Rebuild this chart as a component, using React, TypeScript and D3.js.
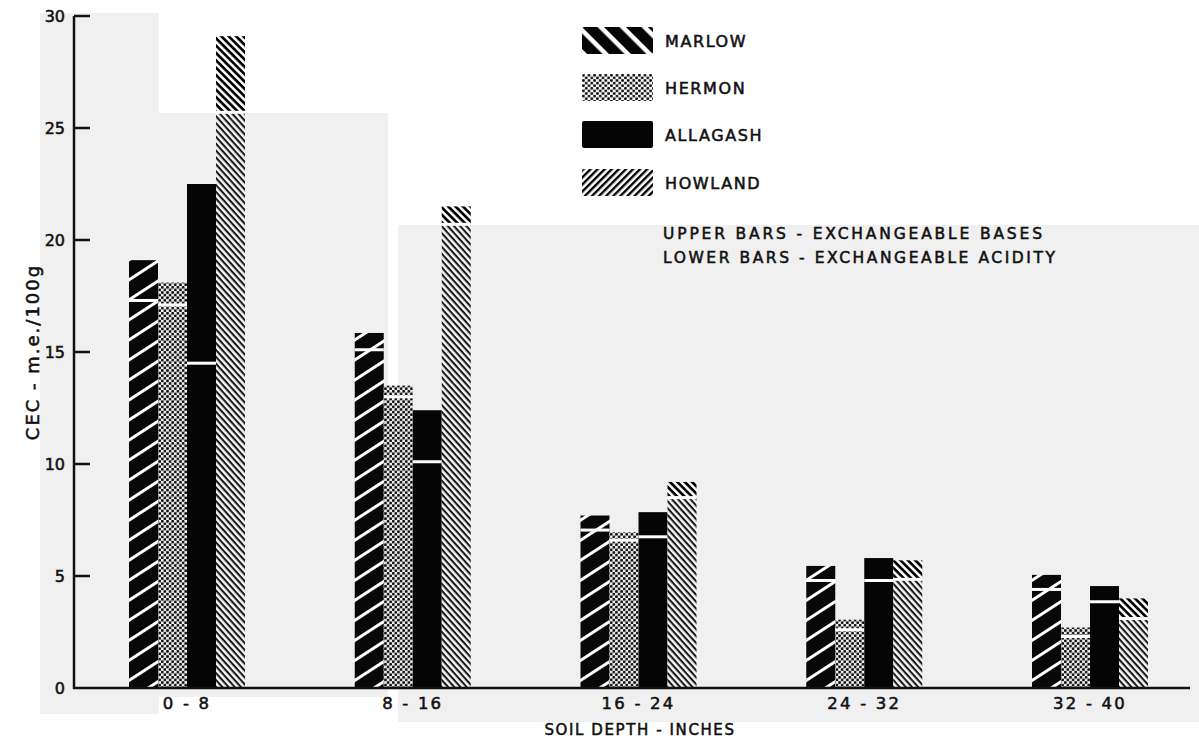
import React from "react";
import * as d3 from "d3";

const depths = ["0 - 8", "8 - 16", "16 - 24", "24 - 32", "32 - 40"];
const soils = ["MARLOW", "HERMON", "ALLAGASH", "HOWLAND"];

// lower bars: exchangeable acidity (m.e./100g)
const marlowAcidity = [17.3, 15.1, 7.05, 4.8, 4.4];
const hermonAcidity = [17.1, 13.0, 6.6, 2.6, 2.3];
const allagashAcidity = [14.5, 10.1, 6.75, 4.8, 3.85];
const howlandAcidity = [25.7, 20.7, 8.5, 4.85, 3.1];

// upper bars: exchangeable bases (m.e./100g)
const marlowBases = [1.8, 0.75, 0.65, 0.65, 0.65];
const hermonBases = [1.0, 0.5, 0.35, 0.45, 0.4];
const allagashBases = [8.0, 2.3, 1.1, 1.0, 0.7];
const howlandBases = [3.4, 0.8, 0.7, 0.85, 0.9];

const yTicks = [0, 5, 10, 15, 20, 25, 30];

const acidity = [marlowAcidity, hermonAcidity, allagashAcidity, howlandAcidity];
const bases = [marlowBases, hermonBases, allagashBases, howlandBases];

const lowerFill = ["url(#pMarlow)", "url(#pHermon)", "#050505", "url(#pHowland)"];
const upperFill = ["url(#pMarlow)", "url(#pHermon)", "#050505", "url(#pHowlandUp)"];
const legendFill = ["url(#lMarlow)", "url(#lHermon)", "#050505", "url(#lHowland)"];

const FONT = "'DejaVu Sans', 'Liberation Sans', sans-serif";
const INK = "#111";

export default function App() {
  const W = 1199;
  const H = 738;
  const axisX = 74;
  const y = d3.scaleLinear().domain([0, 30]).range([688, 16]);
  const x = d3.scalePoint<string>().domain(depths).range([187, 1090]);
  const sub = d3.scaleBand<string>().domain(soils).range([-58, 58]).padding(0);
  const bw = sub.bandwidth();

  const legendY = d3.scalePoint<string>().domain(soils).range([27, 168]);
  const txt = { fontFamily: FONT, fill: INK, stroke: INK, strokeWidth: 0.55 };

  return (
    <svg
      width={W}
      height={H}
      viewBox={`0 0 ${W} ${H}`}
      style={{ position: "absolute", left: 0, top: 0, background: "#fff" }}
    >
      <defs>
        <pattern id="pMarlow" patternUnits="userSpaceOnUse" width={10} height={16.8} patternTransform="rotate(-33)">
          <rect width={10} height={16.8} fill="#080808" />
          <rect y={0} width={10} height={3} fill="#fff" />
        </pattern>
        <pattern id="pHermon" patternUnits="userSpaceOnUse" width={5.2} height={5.2}>
          <rect width={5.2} height={5.2} fill="#f6f6f6" />
          <circle cx={1.3} cy={1.3} r={1.45} fill="#111" />
          <circle cx={3.9} cy={3.9} r={1.45} fill="#111" />
        </pattern>
        <pattern id="pHowland" patternUnits="userSpaceOnUse" width={10} height={4.6} patternTransform="rotate(48)">
          <rect width={10} height={4.6} fill="#f8f8f8" />
          <rect y={0} width={10} height={2.1} fill="#1a1a1a" />
        </pattern>
        <pattern id="pHowlandUp" patternUnits="userSpaceOnUse" width={10} height={5.2} patternTransform="rotate(45)">
          <rect width={10} height={5.2} fill="#fff" />
          <rect y={0} width={10} height={2.7} fill="#000" />
        </pattern>
        <pattern id="lMarlow" patternUnits="userSpaceOnUse" width={20} height={15.5} patternTransform="rotate(45)">
          <rect width={20} height={15.5} fill="#050505" />
          <rect y={0} width={20} height={4.5} fill="#fff" />
        </pattern>
        <pattern id="lHermon" patternUnits="userSpaceOnUse" width={5.6} height={5.2}>
          <rect width={5.6} height={5.2} fill="#fff" />
          <circle cx={1.4} cy={1.3} r={1.45} fill="#111" />
          <circle cx={4.2} cy={3.9} r={1.45} fill="#111" />
        </pattern>
        <pattern id="lHowland" patternUnits="userSpaceOnUse" width={10} height={5} patternTransform="rotate(-45)">
          <rect width={10} height={5} fill="#fff" />
          <rect y={0} width={10} height={2.4} fill="#000" />
        </pattern>
      </defs>

      {/* scanned paper background patches */}
      <rect x={40} y={13} width={119} height={701} fill="#f0f0f0" />
      <rect x={159} y={113} width={229} height={584} fill="#f0f0f0" />
      <rect x={398} y={225} width={801} height={497} fill="#f0f0f0" />

      {/* bars */}
      {depths.map((d, i) => (
        <g key={d} transform={`translate(${x(d)},0)`}>
          {soils.map((s, j) => {
            const lo = acidity[j][i];
            const hi = lo + bases[j][i];
            const bx = sub(s) as number;
            return (
              <g key={s}>
                <rect x={bx} y={y(lo)} width={bw} height={y(0) - y(lo)} fill={lowerFill[j]} />
                <rect x={bx} y={y(hi)} width={bw} height={y(lo) - y(hi)} fill={upperFill[j]} />
                <rect x={bx} y={y(lo) - 1.5} width={bw} height={3} fill="#fff" />
              </g>
            );
          })}
        </g>
      ))}

      {/* axes */}
      <line x1={axisX} x2={axisX} y1={y(30)} y2={y(0) + 1} stroke={INK} strokeWidth={2.5} />
      <line x1={axisX - 1} x2={1190} y1={y(0)} y2={y(0)} stroke={INK} strokeWidth={2.5} />
      {yTicks.map((t) => (
        <g key={t}>
          {t > 0 && (
            <line x1={axisX} x2={axisX + 16} y1={y(t)} y2={y(t)} stroke={INK} strokeWidth={2.5} />
          )}
          <text x={axisX - 9} y={y(t) + 6} textAnchor="end" fontSize={16} {...txt}>
            {t}
          </text>
        </g>
      ))}
      {depths.map((d) => (
        <text key={d} x={x(d)} y={709} textAnchor="middle" fontSize={16.5} letterSpacing={2.2} {...txt}>
          {d}
        </text>
      ))}
      <text x={640} y={735} textAnchor="middle" fontSize={15} letterSpacing={1.6} {...txt}>
        SOIL DEPTH - INCHES
      </text>
      <text
        transform={`translate(39,352) rotate(-90)`}
        textAnchor="middle"
        fontSize={18}
        letterSpacing={2}
        {...txt}
      >
        CEC - m.e./100g
      </text>

      {/* legend */}
      {soils.map((s, j) => (
        <g key={s} transform={`translate(582,${(legendY(s) as number) + (j === 3 ? 1 : 0)})`}>
          <rect width={71} height={27} fill={legendFill[j]} rx={2} />
          <text x={83} y={20} fontSize={16} letterSpacing={1.6} {...txt}>
            {s}
          </text>
        </g>
      ))}
      <text x={663} y={239} fontSize={15.5} textLength={379} lengthAdjust="spacing" {...txt}>
        UPPER BARS - EXCHANGEABLE BASES
      </text>
      <text x={663} y={263} fontSize={15.5} textLength={392} lengthAdjust="spacing" {...txt}>
        LOWER BARS - EXCHANGEABLE ACIDITY
      </text>
    </svg>
  );
}
